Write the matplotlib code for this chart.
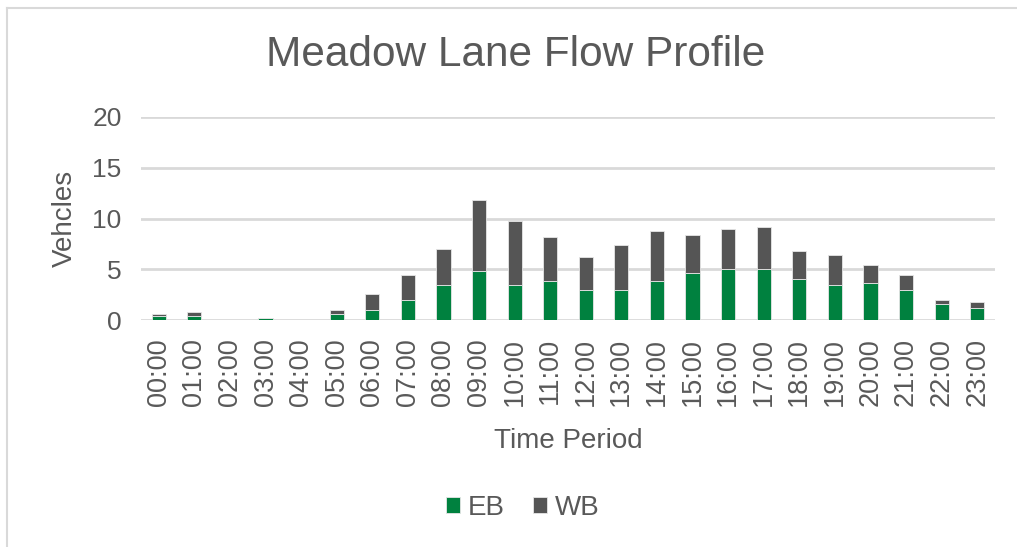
import numpy as np
import matplotlib.pyplot as plt
from matplotlib.lines import Line2D

# hourly periods
hours = ['%02d:00' % h for h in range(24)]

# average vehicles per hour, by direction
eb = [0.4, 0.4, 0.0, 0.2, 0.0, 0.6, 1.0, 2.0, 3.4, 4.8, 3.4, 3.8,
      3.0, 3.0, 3.8, 4.6, 5.0, 5.0, 4.0, 3.4, 3.6, 3.0, 1.6, 1.2]
wb = [0.2, 0.4, 0.0, 0.0, 0.0, 0.4, 1.6, 2.4, 3.6, 7.0, 6.4, 4.4,
      3.2, 4.4, 5.0, 3.8, 4.0, 4.2, 2.8, 3.0, 1.8, 1.4, 0.4, 0.6]

yticks = [0, 5, 10, 15, 20]

txt = '#595959'
plt.rcParams['font.family'] = ['Liberation Sans', 'DejaVu Sans']

fig = plt.figure(figsize=(10.17, 5.47), dpi=100)
ax = fig.add_axes([141/1017, 1-320/547, 854/1017, 203/547])

x = np.arange(len(hours))
ax.bar(x, eb, width=0.4, color='#00813F', edgecolor='#e6e6e6', linewidth=0.6,
       label='EB', zorder=3)
ax.bar(x, wb, width=0.4, bottom=eb, color='#555555', edgecolor='#e6e6e6',
       linewidth=0.6, label='WB', zorder=3)

ax.set_xlim(-0.5, len(hours) - 0.5)
ax.set_ylim(0, 20)
ax.set_yticks(yticks)
ax.set_xticks(x)
ax.set_xticklabels(hours, rotation=90)
ax.grid(axis='y', color='#d9d9d9', linewidth=2, zorder=0)
ax.tick_params(length=0, labelcolor=txt)
ax.tick_params(axis='y', pad=14, labelsize=19)
ax.tick_params(axis='x', pad=13, labelsize=19.5)
for s in ax.spines.values():
    s.set_visible(False)

ax.set_ylabel('Vehcles', fontsize=20, color=txt, labelpad=10)
ax.set_xlabel('Time Period', fontsize=20, color=txt, labelpad=16)
fig.text(0.507, 1-55/547, 'Meadow Lane Flow Profile', fontsize=30.5,
         color=txt, ha='center', va='center')

ax.legend(loc='center', bbox_to_anchor=(0.514, 1-508/547),
          bbox_transform=fig.transFigure, ncol=2, frameon=False,
          fontsize=20, labelcolor=txt, handlelength=0.5, handleheight=0.5,
          handletextpad=0.3, columnspacing=1.0)

# chart frame, top and left edges
fig.add_artist(Line2D([7/1017, 1], [1-8/547, 1-8/547], color='#d9d9d9', lw=1.5))
fig.add_artist(Line2D([7/1017, 7/1017], [0, 1-8/547], color='#d9d9d9', lw=1.5))

fig.savefig('out.png', dpi=100)
